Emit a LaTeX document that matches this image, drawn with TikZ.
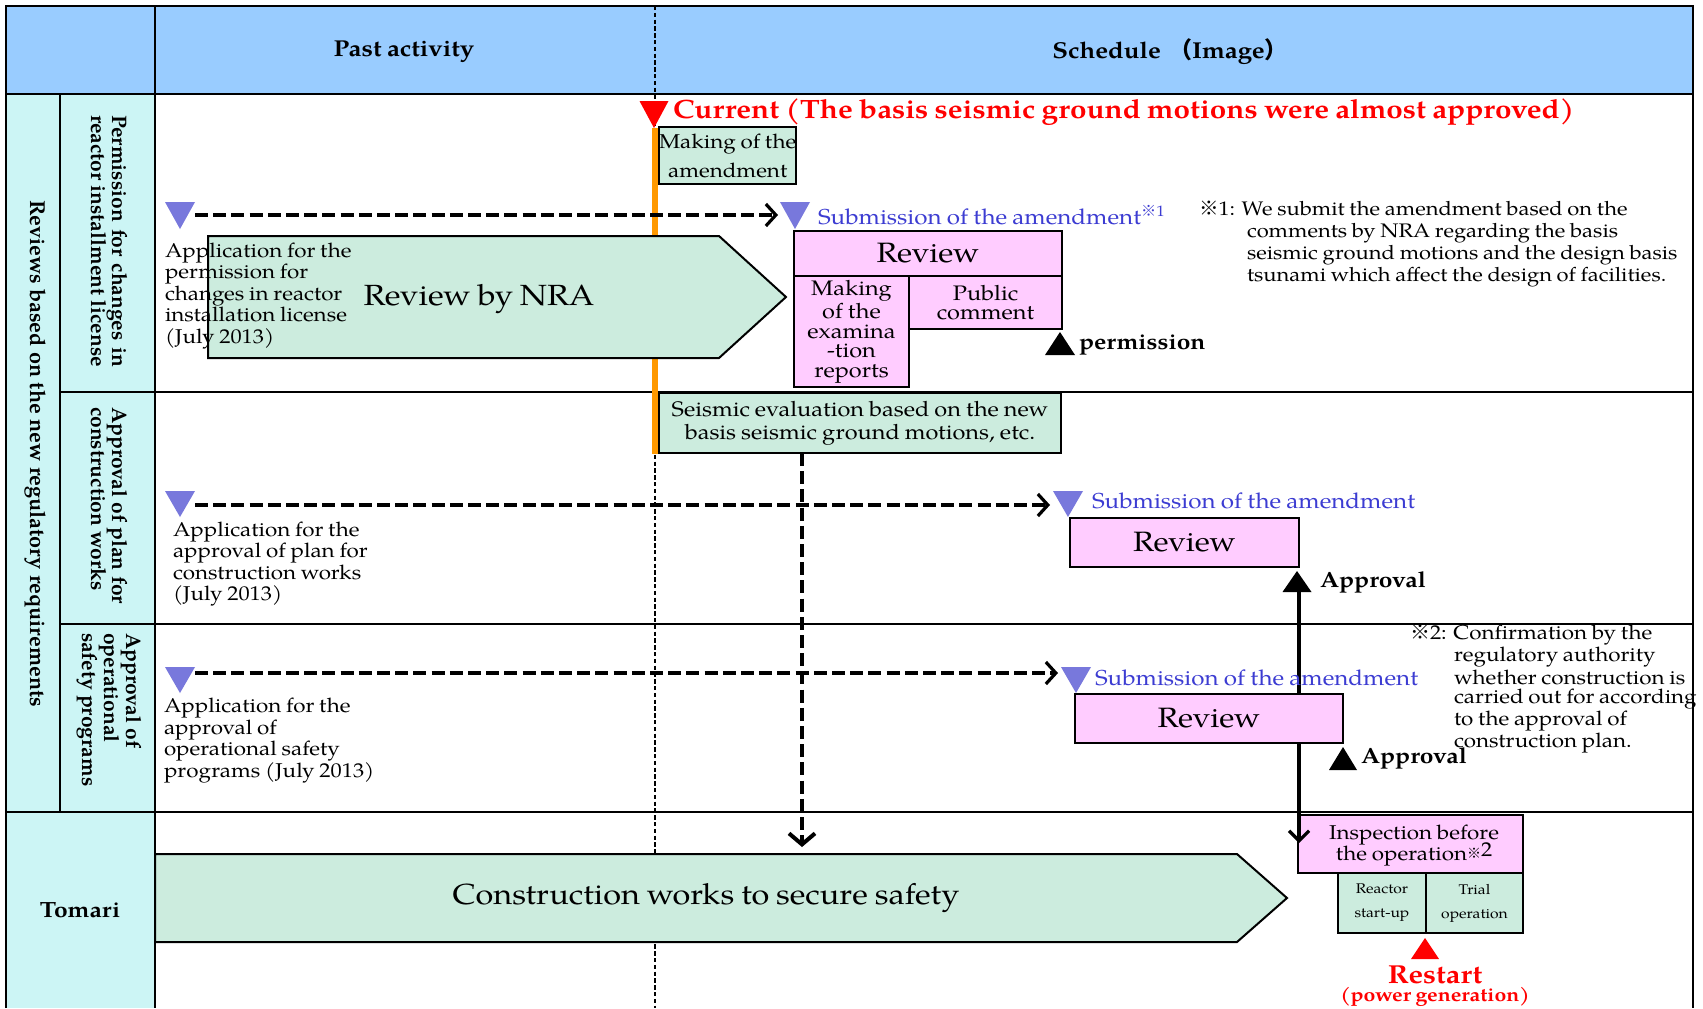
\documentclass[tikz,border=0pt]{standalone}
\usepackage{fontspec}
\setmainfont{texgyrepagella}[Extension=.otf, UprightFont=*-regular, BoldFont=*-bold, ItalicFont=*-italic, BoldItalicFont=*-bolditalic, FakeStretch=1.12, WordSpace=0.85]
\newfontfamily\rotfont{texgyrepagella}[Extension=.otf, UprightFont=*-regular, BoldFont=*-bold, ItalicFont=*-italic, BoldItalicFont=*-bolditalic]
\newfontfamily\cjk{Noto Sans CJK JP}
\usetikzlibrary{arrows.meta}
\definecolor{hdrblue}{RGB}{153,204,255}
\definecolor{sidecyan}{RGB}{204,245,245}
\definecolor{grn}{RGB}{204,236,222}
\definecolor{pnk}{RGB}{255,204,255}
\definecolor{purp}{RGB}{120,120,220}
\definecolor{subblue}{RGB}{60,60,210}
\definecolor{orng}{RGB}{255,153,0}
\definecolor{redc}{RGB}{255,0,0}
\newlength\sidelen
\newcommand{\kome}{{\cjk ※}}
\newcommand{\tridn}[5]{\fill[#5] (#1,#2) -- ++(-#3,-#4) -- ++(2*#3,0) -- cycle;}
\newcommand{\triup}[5]{\fill[#5] (#1,#2) -- ++(-#3,#4) -- ++(2*#3,0) -- cycle;}
\begin{document}
\begin{tikzpicture}[x=0.5pt,y=-0.5pt,
  every node/.style={inner sep=0pt, outer sep=0pt},
  grid/.style={line width=1pt, draw=black},
  gbox/.style={draw=black, line width=1pt, fill=grn, align=center, anchor=north west},
  pbox/.style={draw=black, line width=1pt, fill=pnk, align=center, anchor=north west},
  gshape/.style={draw=black, line width=1pt, fill=grn},
  hdr/.style={font=\bfseries\fontsize{11.5}{14}\selectfont},
  side/.style={font=\rotfont\bfseries\fontsize{10.5}{10.5}\selectfont, rotate=-90, anchor=west, align=left},
  apptxt/.style={font=\fontsize{10}{10.75}\selectfont, align=left, anchor=west},
  subm/.style={font=\fontsize{10.8}{13}\selectfont, text=subblue, anchor=west},
  boldlbl/.style={font=\bfseries\fontsize{11}{13}\selectfont, anchor=west},
  bigtxt/.style={font=\fontsize{14}{16}\selectfont},
  notetxt/.style={align=left, anchor=west},
  dasharr/.style={line width=1.6pt, dash pattern=on 6.5pt off 2.6pt, -{Straight Barb[length=5pt,width=11pt]}},
  vdash/.style={line width=2pt, dash pattern=on 6.5pt off 2.6pt, -{Straight Barb[length=5.5pt,width=13pt]}},
  solline/.style={line width=1.6pt},
  solarr/.style={line width=1.6pt, -{Straight Barb[length=5pt,width=10pt]}}
]
\useasboundingbox (0,0) rectangle (1703,1008);
\fill[white] (0,0) rectangle (1703,1008);
\fill[hdrblue] (6,6) rectangle (1693,94);
\fill[sidecyan] (6,94) rectangle (155,1008);
% grid
\draw[line width=0.7pt, dash pattern=on 2.2pt off 1.2pt] (655,6) -- (655,1008);
\draw[grid] (6,1008) -- (6,6) -- (1693,6) -- (1693,1008);
\draw[grid] (6,94) -- (1693,94);
\draw[grid] (155,6) -- (155,1008);
\draw[grid] (60,94) -- (60,812);
\draw[grid] (60,392) -- (1693,392);
\draw[grid] (60,624) -- (1693,624);
\draw[grid] (6,812) -- (1693,812);
% header
\node[hdr] (past) at (404,52) {Past activity};
\node[hdr] (sched) at (1170,52) {Schedule\hspace{4pt}{\cjk （}Image{\cjk ）}};
% side labels
\node[side, font=\rotfont\bfseries\fontsize{10.8}{10.8}\selectfont] (revs) at (35,200) {Reviews based on the new regulatory requirements};
\node[side] (lab1) at (109.5,115) {\settowidth{\sidelen}{reactor installment license}\makebox[\sidelen][s]{Permission for changes in}\\reactor installment license};
\node[side] (lab2) at (109.5,407) {Approval of plan for\\construction works};
\node[side, font=\rotfont\bfseries\fontsize{10.5}{11}\selectfont] (lab3) at (109,633) {Approval of\\operational\\safety programs};
\node[font=\bfseries\fontsize{11}{13}\selectfont] (tomari) at (80,910) {Tomari};
% current marker
\draw[orng, line width=2.8pt] (655,128) -- (655,454);
\tridn{654}{128}{14.5}{27}{redc}
\node[text=redc, font=\bfseries\fontsize{13.25}{15}\selectfont, anchor=west] (cur) at (673,112) {Current (The basis seismic ground motions were almost approved)};
\node[gbox, minimum width=68.5pt, minimum height=28.5pt, font=\fontsize{10}{14.5}\selectfont] (amend) at (659,127) {Making of the\\amendment};
% row 1
\draw[gshape] (208,236) -- (719,236) -- (786,297) -- (719,358) -- (208,358) -- cycle;
\node[font=\fontsize{14.6}{16}\selectfont] (nra) at (479,299) {Review by NRA};
\node[apptxt] (app1) at (165,296) {Application for the\\permission for\\changes in reactor\\installation license\\(July 2013)};
\coordinate (s1) at (195,215);
\coordinate (e1) at (778,215);
\draw[dasharr] (s1) -- (e1);
\tridn{180}{229}{15}{27}{purp}
\tridn{795}{229}{15}{27}{purp}
\node[subm] (sub1) at (818,215) {Submission of the amendment\textsuperscript{\kome 1}};
\node[pbox, minimum width=134pt, minimum height=22.5pt, bigtxt] (rev1) at (794,231) {Review};
\node[pbox, minimum width=57.5pt, minimum height=55.5pt, font=\fontsize{10.5}{9.75}\selectfont] (exam) at (794,276) {Making\\of the\\examina\\-tion\\reports};
\node[pbox, minimum width=76.5pt, minimum height=26.5pt, font=\fontsize{10.5}{9.75}\selectfont] (pub) at (909,276) {Public\\comment};
\triup{1060}{332}{15}{23}{black}
\node[boldlbl] (perm) at (1079,345) {permission};
\node[notetxt, font=\fontsize{9.8}{10.85}\selectfont] (note1) at (1199,244) {\kome 1: We submit the amendment based on the\\\hspace*{24pt}comments by NRA regarding the basis\\\hspace*{24pt}seismic ground motions and the design basis\\\hspace*{24pt}tsunami which affect the design of facilities.};
% row 2
\node[gbox, minimum width=201pt, minimum height=30pt, font=\fontsize{10.5}{11.5}\selectfont] (seis) at (659,393) {Seismic evaluation based on the new\\basis seismic ground motions, etc.};
\coordinate (vx) at (802,847);
\draw[vdash] (seis.south -| vx) -- (vx);
\coordinate (s2) at (195,505);
\coordinate (e2) at (1050,505);
\draw[dasharr] (s2) -- (e2);
\tridn{180}{517}{15}{26}{purp}
\tridn{1068}{517}{15}{26}{purp}
\node[subm] (sub2) at (1092,501) {Submission of the amendment};
\node[pbox, minimum width=114.5pt, minimum height=24.5pt, bigtxt] (rev2) at (1070,518) {Review};
\node[apptxt] (app2) at (173,564) {Application for the\\approval of plan for\\construction works\\(July 2013)};
\triup{1297}{571}{14.5}{21}{black}
\node[boldlbl] (appr2) at (1320,582) {Approval};
\coordinate (apb) at (1299,592);
\coordinate (ipt) at (1299,843);
\draw[solline] (apb) -- (ipt);
% row 3
\coordinate (s3) at (195,673);
\coordinate (e3) at (1058,673);
\draw[dasharr] (s3) -- (e3);
\tridn{180}{693}{15}{26}{purp}
\tridn{1076}{693}{15}{26}{purp}
\node[subm] (sub3) at (1095,678) {Submission of the amendment};
\node[pbox, minimum width=134pt, minimum height=24.5pt, bigtxt] (rev3) at (1075,694) {Review};
\node[apptxt] (app3) at (164,740.5) {Application for the\\approval of\\operational safety\\programs (July 2013)};
\triup{1343}{747}{14}{23}{black}
\node[boldlbl] (appr3) at (1361,758) {Approval};
\node[notetxt, font=\fontsize{10}{9.5}\selectfont] (note2) at (1410,689) {\kome 2: Confirmation by the\\\hspace*{22pt}regulatory authority\\\hspace*{22pt}whether construction is\\\hspace*{22pt}carried out for according\\\hspace*{22pt}to the approval of\\\hspace*{22pt}construction plan.};
% Tomari row
\draw[gshape] (155,854) -- (1237,854) -- (1287,898) -- (1237,942) -- (155,942) -- cycle;
\node[font=\fontsize{14.5}{16}\selectfont] (cons) at (706,898) {Construction works to secure safety};
\node[pbox, minimum width=112.5pt, minimum height=29pt] (insp) at (1298,815) {};
\node[font=\fontsize{10}{10.5}\selectfont, align=center] (insptxt) at (1414,846) {Inspection before\\the operation\smash{\raisebox{.3ex}{\scriptsize\kome}\raisebox{.45ex}{2}}};
\draw[solarr] (insp.north -| ipt) -- (ipt);
\node[gbox, minimum width=44pt, minimum height=30pt, font=\fontsize{7}{12}\selectfont] (react) at (1338,873) {Reactor\\start-up};
\node[gbox, minimum width=48.5pt, minimum height=30pt, font=\fontsize{7}{12}\selectfont] (trial) at (1426,873) {Trial\\operation};
\triup{1425}{938}{14}{21}{redc}
\node[text=redc, font=\bfseries\fontsize{13}{15}\selectfont] (rst) at (1435,975) {Restart};
\node[text=redc, font=\bfseries\fontsize{9.5}{10}\selectfont] (pg) at (1435,997) {(power generation)};
\end{tikzpicture}
\end{document}
